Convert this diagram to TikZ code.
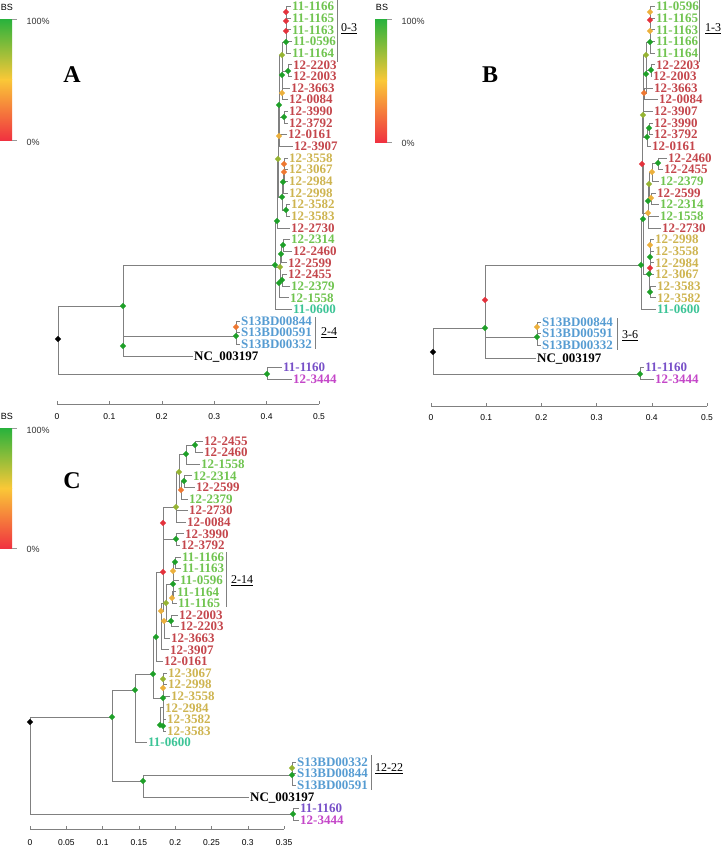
\documentclass[tikz,border=0pt]{standalone}
\usepackage{fontspec}
\setmainfont{Liberation Serif}
\newfontfamily\axisfont{Liberation Sans}
\usetikzlibrary{shapes.geometric}
\definecolor{tgreen}{RGB}{112,196,80}
\definecolor{tred}{RGB}{196,70,76}
\definecolor{tyel}{RGB}{206,180,80}
\definecolor{tteal}{RGB}{60,196,150}
\definecolor{tblue}{RGB}{86,156,210}
\definecolor{tpurp}{RGB}{120,80,200}
\definecolor{tmag}{RGB}{196,70,200}
\definecolor{bsgreen}{RGB}{30,160,40}
\definecolor{bsred}{RGB}{228,50,60}
\definecolor{bsorange}{RGB}{238,120,50}
\definecolor{bsyellow}{RGB}{236,176,60}
\definecolor{bsolive}{RGB}{150,180,50}
\definecolor{bartop}{RGB}{40,178,60}
\definecolor{barmid}{RGB}{250,200,55}
\definecolor{barbot}{RGB}{240,50,64}
\pgfdeclarelayer{back}
\pgfsetlayers{back,main}
\newcommand\yA[1]{6.5+11.65*#1}
\newcommand\yC[1]{441+11.6*#1}
\newcommand\br[2]{\begin{pgfonlayer}{back}\foreach \ch in {#2}{\draw[brline] (#1.center) |- (\ch);}\end{pgfonlayer}}
\newcommand\bsbar[3]{%
  \shade[top color=bartop, bottom color=barmid] (#1,#2) rectangle ({#1+12},{(#2+#3)/2});
  \shade[top color=barmid, bottom color=barbot] (#1,{(#2+#3)/2}) rectangle ({#1+12},#3);
  \draw[black!40] ({#1+12},#2) -- ++(5,0) ({#1+12},#3) -- ++(5,0);}

\begin{document}
\begin{tikzpicture}[x=1pt, y=-1pt,
  brline/.style={draw=black!50, line width=0.7pt},
  dm/.style={diamond, fill=#1, draw=none, inner sep=0pt, minimum size=6.5pt},
  tip/.style={anchor=west, inner xsep=1pt, inner ysep=0pt, text=#1, font=\fontsize{13}{13}\selectfont\bfseries, text height=8.5pt, text depth=0pt},
  axlab/.style={font=\axisfont\fontsize{8.5}{8.5}\selectfont},
  barlab/.style={anchor=west, font=\axisfont\fontsize{9}{9}\selectfont, text=black!80},
  grp/.style={anchor=west, inner sep=1pt, font=\fontsize{12}{12}\selectfont},
  panel/.style={font=\fontsize{24}{24}\selectfont\bfseries}
]
  \useasboundingbox (0,0) rectangle (722,855);

  %% Colour bars
  \bsbar{0}{19}{140}
  \node[font=\axisfont\fontsize{9}{9}\selectfont] (bsA) at (7,7) {BS};
  \node[barlab] (hiA) at (23,21) {100\%};
  \node[barlab] (loA) at (23,142) {0\%};
  \bsbar{375}{19}{142}
  \node[font=\axisfont\fontsize{9}{9}\selectfont] (bsB) at (382,7) {BS};
  \node[barlab] (hiB) at (398,21) {100\%};
  \node[barlab] (loB) at (398,143) {0\%};
  \bsbar{0}{428}{548}
  \node[font=\axisfont\fontsize{9}{9}\selectfont] (bsC) at (7,416) {BS};
  \node[barlab] (hiC) at (23,430) {100\%};
  \node[barlab] (loC) at (23,549) {0\%};

  \node[panel] (labA) at (72,75) {A};
  \node[panel] (labB) at (490,75) {B};
  \node[panel] (labC) at (72,481) {C};

  %% Axes
  \draw[black!50] (57,404) -- (319,404);
  \foreach \k/\v in {0/0,1/0.1,2/0.2,3/0.3,4/0.4,5/0.5}{
    \draw[black!50] ({57+52.4*\k},404) -- ++(0,-3);
    \node[axlab] (axA\k) at ({57+52.4*\k},417) {\v};
  }
  \draw[black!50] (431,406) -- (707,406);
  \foreach \k/\v in {0/0,1/0.1,2/0.2,3/0.3,4/0.4,5/0.5}{
    \draw[black!50] ({431+55.2*\k},406) -- ++(0,-3);
    \node[axlab] (axB\k) at ({431+55.2*\k},418) {\v};
  }
  \draw[black!50] (30,829) -- (284,829);
  \foreach \k/\v in {0/0,1/0.05,2/0.1,3/0.15,4/0.2,5/0.25,6/0.3,7/0.35}{
    \draw[black!50] ({30+36.3*\k},829) -- ++(0,-3);
    \node[axlab] (axC\k) at ({30+36.3*\k},843) {\v};
  }

  %% Tree A: tips
  \node[tip=tgreen] (a0) at (291,{\yA{0}}) {11-1166};
  \node[tip=tgreen] (a1) at (291,{\yA{1}}) {11-1165};
  \node[tip=tgreen] (a2) at (291,{\yA{2}}) {11-1163};
  \node[tip=tgreen] (a3) at (292,{\yA{3}}) {11-0596};
  \node[tip=tgreen] (a4) at (291,{\yA{4}}) {11-1164};
  \node[tip=tred] (a5) at (292,{\yA{5}}) {12-2203};
  \node[tip=tred] (a6) at (292,{\yA{6}}) {12-2003};
  \node[tip=tred] (a7) at (290,{\yA{7}}) {12-3663};
  \node[tip=tred] (a8) at (288,{\yA{8}}) {12-0084};
  \node[tip=tred] (a9) at (288,{\yA{9}}) {12-3990};
  \node[tip=tred] (a10) at (288,{\yA{10}}) {12-3792};
  \node[tip=tred] (a11) at (287,{\yA{11}}) {12-0161};
  \node[tip=tred] (a12) at (293,{\yA{12}}) {12-3907};
  \node[tip=tyel] (a13) at (288,{\yA{13}}) {12-3558};
  \node[tip=tyel] (a14) at (288,{\yA{14}}) {12-3067};
  \node[tip=tyel] (a15) at (288,{\yA{15}}) {12-2984};
  \node[tip=tyel] (a16) at (288,{\yA{16}}) {12-2998};
  \node[tip=tyel] (a17) at (290,{\yA{17}}) {12-3582};
  \node[tip=tyel] (a18) at (290,{\yA{18}}) {12-3583};
  \node[tip=tred] (a19) at (290,{\yA{19}}) {12-2730};
  \node[tip=tgreen] (a20) at (290,{\yA{20}}) {12-2314};
  \node[tip=tred] (a21) at (292,{\yA{21}}) {12-2460};
  \node[tip=tred] (a22) at (287,{\yA{22}}) {12-2599};
  \node[tip=tred] (a23) at (287,{\yA{23}}) {12-2455};
  \node[tip=tgreen] (a24) at (290,{\yA{24}}) {12-2379};
  \node[tip=tgreen] (a25) at (289,{\yA{25}}) {12-1558};
  \node[tip=tteal] (a26) at (292,{\yA{26}}) {11-0600};
  \node[tip=tblue] (aS1) at (240,321) {S13BD00844};
  \node[tip=tblue] (aS2) at (240,332.5) {S13BD00591};
  \node[tip=tblue] (aS3) at (240,344) {S13BD00332};
  \node[tip=black] (aNC) at (193,356) {NC\_003197};
  \node[tip=tpurp] (aO1) at (282,367) {11-1160};
  \node[tip=tmag] (aO2) at (292,379) {12-3444};

  %% Tree A: inner nodes
  \node[dm=black] (Ar) at (58,339) {};
  \node[dm=bsgreen] (An1) at (123,306) {};
  \node[dm=bsgreen] (An2) at (123,346) {};
  \node[dm=bsgreen] (As) at (236,336) {};
  \node[dm=bsorange] (As1) at (236,327) {};
  \node[dm=bsgreen] (Aout) at (267,374) {};
  \node[dm=bsgreen] (Abig) at (275,265) {};
  \node[dm=bsolive] (AL) at (280,267) {};
  \node[dm=bsgreen] (AL1) at (281,254) {};
  \node[dm=bsgreen] (AL1a) at (283,245) {};
  \node[dm=bsgreen] (AL2) at (279,283) {};
  \node[dm=bsgreen] (AL2a) at (282,280) {};
  \node[dm=bsgreen] (AU) at (277,221) {};
  \node[dm=bsolive] (AU2) at (278,159) {};
  \node[dm=bsgreen] (AT) at (279,105) {};
  \node[dm=bsolive] (AGa) at (282,55) {};
  \node[dm=bsgreen] (AGg) at (286,42) {};
  \node[dm=bsred] (Ag2) at (286,31) {};
  \node[dm=bsred] (Ag1) at (286,21) {};
  \node[dm=bsred] (Ag0) at (286,12) {};
  \node[dm=bsgreen] (AGr) at (282,75) {};
  \node[dm=bsgreen] (AGr1) at (288,71) {};
  \node[dm=bsyellow] (AGr2) at (282,93) {};
  \node[dm=bsgreen] (ARb) at (284,117) {};
  \node[dm=bsyellow] (ARc) at (279,136) {};
  \node[dm=bsgreen] (Ay0) at (282,197) {};
  \node[dm=bsgreen] (Ay1) at (283,182) {};
  \node[dm=bsorange] (Ay2) at (284,172) {};
  \node[dm=bsorange] (Ay3) at (284,164) {};
  \node[dm=bsgreen] (Ay5) at (286,210) {};

  %% Tree A: branches
  \br{Ar}{An1.center,Aout.center}
  \br{An1}{Abig.center,An2.center}
  \br{An2}{As.center,aNC.west}
  \br{As}{As1.center,aS3.west}
  \br{As1}{aS1.west,aS2.west}
  \br{Aout}{aO1.west,aO2.west}
  \br{Abig}{AU.center,AL.center,a26.west}
  \br{AL}{AL1.center,AL2.center}
  \br{AL1}{AL1a.center,a22.west}
  \br{AL1a}{a20.west,a21.west}
  \br{AL2}{AL2a.center,a25.west}
  \br{AL2a}{a23.west,a24.west}
  \br{AU}{AU2.center,a19.west}
  \br{AU2}{AT.center,Ay0.center}
  \br{AT}{AGa.center,ARb.center,ARc.center}
  \br{AGa}{AGg.center,AGr.center}
  \br{AGg}{Ag2.center,a4.west}
  \br{Ag2}{Ag1.center,a3.west}
  \br{Ag1}{Ag0.center,a2.west}
  \br{Ag0}{a0.west,a1.west}
  \br{AGr}{AGr1.center,AGr2.center}
  \br{AGr1}{a5.west,a6.west}
  \br{AGr2}{a7.west,a8.west}
  \br{ARb}{a9.west,a10.west}
  \br{ARc}{a11.west,a12.west}
  \br{Ay0}{Ay1.center,Ay5.center}
  \br{Ay1}{Ay2.center,a16.west}
  \br{Ay2}{Ay3.center,a15.west}
  \br{Ay3}{a13.west,a14.west}
  \br{Ay5}{a17.west,a18.west}

  %% Tree A: groups
  \draw[black!50] (337,0) -- (337,62);
  \node[grp] (gA1) at (340,29) {\underline{0-3}};
  \draw[black!50] (315,317) -- (315,349);
  \node[grp] (gA2) at (320,333) {\underline{2-4}};

  %% Tree B: tips
  \node[tip=tgreen] (b0) at (655,{\yA{0}}) {11-0596};
  \node[tip=tgreen] (b1) at (655,{\yA{1}}) {11-1165};
  \node[tip=tgreen] (b2) at (655,{\yA{2}}) {11-1163};
  \node[tip=tgreen] (b3) at (655,{\yA{3}}) {11-1166};
  \node[tip=tgreen] (b4) at (655,{\yA{4}}) {11-1164};
  \node[tip=tred] (b5) at (655,{\yA{5}}) {12-2203};
  \node[tip=tred] (b6) at (652,{\yA{6}}) {12-2003};
  \node[tip=tred] (b7) at (653,{\yA{7}}) {12-3663};
  \node[tip=tred] (b8) at (658,{\yA{8}}) {12-0084};
  \node[tip=tred] (b9) at (653,{\yA{9}}) {12-3907};
  \node[tip=tred] (b10) at (653,{\yA{10}}) {12-3990};
  \node[tip=tred] (b11) at (653,{\yA{11}}) {12-3792};
  \node[tip=tred] (b12) at (651,{\yA{12}}) {12-0161};
  \node[tip=tred] (b13) at (667,{\yA{13}}) {12-2460};
  \node[tip=tred] (b14) at (663,{\yA{14}}) {12-2455};
  \node[tip=tgreen] (b15) at (659,{\yA{15}}) {12-2379};
  \node[tip=tred] (b16) at (656,{\yA{16}}) {12-2599};
  \node[tip=tgreen] (b17) at (659,{\yA{17}}) {12-2314};
  \node[tip=tgreen] (b18) at (659,{\yA{18}}) {12-1558};
  \node[tip=tred] (b19) at (661,{\yA{19}}) {12-2730};
  \node[tip=tyel] (b20) at (654,{\yA{20}}) {12-2998};
  \node[tip=tyel] (b21) at (654,{\yA{21}}) {12-3558};
  \node[tip=tyel] (b22) at (654,{\yA{22}}) {12-2984};
  \node[tip=tyel] (b23) at (654,{\yA{23}}) {12-3067};
  \node[tip=tyel] (b24) at (656,{\yA{24}}) {12-3583};
  \node[tip=tyel] (b25) at (656,{\yA{25}}) {12-3582};
  \node[tip=tteal] (b26) at (656,{\yA{26}}) {11-0600};
  \node[tip=tblue] (bS1) at (541,322) {S13BD00844};
  \node[tip=tblue] (bS2) at (541,333.5) {S13BD00591};
  \node[tip=tblue] (bS3) at (541,345) {S13BD00332};
  \node[tip=black] (bNC) at (536,358) {NC\_003197};
  \node[tip=tpurp] (bO1) at (644,367) {11-1160};
  \node[tip=tmag] (bO2) at (654,379) {12-3444};

  %% Tree B: inner nodes
  \node[dm=black] (Br) at (433,352) {};
  \node[dm=bsgreen] (B1) at (485,328) {};
  \node[dm=bsred] (B2) at (485,300) {};
  \node[dm=bsgreen] (BS) at (537,337) {};
  \node[dm=bsyellow] (BS1) at (537,327) {};
  \node[dm=bsgreen] (Bout) at (640,374) {};
  \node[dm=bsgreen] (BigB) at (641,265) {};
  \node[dm=bsgreen] (Bup) at (643,219) {};
  \node[dm=bsred] (Bred) at (642,164) {};
  \node[dm=bsolive] (Bt) at (643,115) {};
  \node[dm=bsyellow] (bg0) at (650,12) {};
  \node[dm=bsred] (bg1) at (650,20) {};
  \node[dm=bsyellow] (bg2) at (650,31) {};
  \node[dm=bsgreen] (bg3) at (650,42) {};
  \node[dm=bsolive] (bg4) at (646,55) {};
  \node[dm=bsgreen] (bg5) at (646,74) {};
  \node[dm=bsgreen] (bg6) at (651,70) {};
  \node[dm=bsorange] (bg7) at (644,93) {};
  \node[dm=bsgreen] (bg8) at (647,137) {};
  \node[dm=bsgreen] (bg9) at (649,128) {};
  \node[dm=bsgreen] (bm0) at (658,163) {};
  \node[dm=bsyellow] (bm1) at (652,172) {};
  \node[dm=bsolive] (bm2) at (649,184) {};
  \node[dm=bsyellow] (bm3) at (651,198) {};
  \node[dm=bsgreen] (bm4) at (648,201) {};
  \node[dm=bsyellow] (bm5) at (648,213) {};
  \node[dm=bsgreen] (Byel) at (649,274) {};
  \node[dm=bsyellow] (by00) at (650,245) {};
  \node[dm=bsgreen] (by0) at (650,257) {};
  \node[dm=bsred] (by1) at (650,268) {};
  \node[dm=bsgreen] (by3) at (650,292) {};

  %% Tree B: branches
  \br{Br}{B1.center,Bout.center}
  \br{B1}{B2.center,bNC.west}
  \br{B2}{BigB.center,BS.center}
  \br{BS}{BS1.center,bS3.west}
  \br{BS1}{bS1.west,bS2.west}
  \br{Bout}{bO1.west,bO2.west}
  \br{BigB}{Bup.center,b26.west}
  \br{Bup}{Bred.center,Byel.center}
  \br{Bred}{Bt.center,bm5.center}
  \br{Bt}{bg4.center,b9.west,bg8.center}
  \br{bg4}{bg3.center,bg5.center}
  \br{bg3}{bg2.center,b4.west}
  \br{bg2}{bg1.center,b3.west}
  \br{bg1}{bg0.center,b2.west}
  \br{bg0}{b0.west,b1.west}
  \br{bg5}{bg6.center,bg7.center}
  \br{bg6}{b5.west,b6.west}
  \br{bg7}{b7.west,b8.west}
  \br{bg8}{bg9.center,b12.west}
  \br{bg9}{b10.west,b11.west}
  \br{bm5}{bm4.center,b19.west}
  \br{bm4}{bm2.center,b18.west}
  \br{bm2}{bm1.center,bm3.center}
  \br{bm1}{bm0.center,b15.west}
  \br{bm0}{b13.west,b14.west}
  \br{bm3}{b16.west,b17.west}
  \br{Byel}{by1.center,by3.center}
  \br{by1}{by0.center,b23.west}
  \br{by0}{by00.center,b22.west}
  \br{by00}{b20.west,b21.west}
  \br{by3}{b24.west,b25.west}

  %% Tree B: groups
  \draw[black!50] (699,0) -- (699,62);
  \node[grp] (gB1) at (704,29) {\underline{1-3}};
  \draw[black!50] (617,318) -- (617,350);
  \node[grp] (gB2) at (621,336) {\underline{3-6}};

  %% Tree C: tips
  \node[tip=tred] (c0) at (203,{\yC{0}}) {12-2455};
  \node[tip=tred] (c1) at (203,{\yC{1}}) {12-2460};
  \node[tip=tgreen] (c2) at (200,{\yC{2}}) {12-1558};
  \node[tip=tgreen] (c3) at (192,{\yC{3}}) {12-2314};
  \node[tip=tred] (c4) at (195,{\yC{4}}) {12-2599};
  \node[tip=tgreen] (c5) at (188,{\yC{5}}) {12-2379};
  \node[tip=tred] (c6) at (188,{\yC{6}}) {12-2730};
  \node[tip=tred] (c7) at (186,{\yC{7}}) {12-0084};
  \node[tip=tred] (c8) at (184,{\yC{8}}) {12-3990};
  \node[tip=tred] (c9) at (180,{\yC{9}}) {12-3792};
  \node[tip=tgreen] (c10) at (181,{\yC{10}}) {11-1166};
  \node[tip=tgreen] (c11) at (181,{\yC{11}}) {11-1163};
  \node[tip=tgreen] (c12) at (179,{\yC{12}}) {11-0596};
  \node[tip=tgreen] (c13) at (176,{\yC{13}}) {11-1164};
  \node[tip=tgreen] (c14) at (177,{\yC{14}}) {11-1165};
  \node[tip=tred] (c15) at (178,{\yC{15}}) {12-2003};
  \node[tip=tred] (c16) at (179,{\yC{16}}) {12-2203};
  \node[tip=tred] (c17) at (170,{\yC{17}}) {12-3663};
  \node[tip=tred] (c18) at (169,{\yC{18}}) {12-3907};
  \node[tip=tred] (c19) at (163,{\yC{19}}) {12-0161};
  \node[tip=tyel] (c20) at (167,{\yC{20}}) {12-3067};
  \node[tip=tyel] (c21) at (167,{\yC{21}}) {12-2998};
  \node[tip=tyel] (c22) at (170,{\yC{22}}) {12-3558};
  \node[tip=tyel] (c23) at (164,{\yC{23}}) {12-2984};
  \node[tip=tyel] (c24) at (166,{\yC{24}}) {12-3582};
  \node[tip=tyel] (c25) at (166,{\yC{25}}) {12-3583};
  \node[tip=tteal] (c26) at (147,{\yC{26}}) {11-0600};
  \node[tip=tblue] (cS1) at (296,762) {S13BD00332};
  \node[tip=tblue] (cS2) at (296,773.6) {S13BD00844};
  \node[tip=tblue] (cS3) at (296,785.2) {S13BD00591};
  \node[tip=black] (cNC) at (249,797) {NC\_003197};
  \node[tip=tpurp] (cO1) at (299,808.5) {11-1160};
  \node[tip=tmag] (cO2) at (299,820) {12-3444};

  %% Tree C: inner nodes
  \node[dm=black] (Cr) at (30,722) {};
  \node[dm=bsgreen] (CA) at (112,717) {};
  \node[dm=bsgreen] (CB) at (135,690) {};
  \node[dm=bsgreen] (CD) at (143,781) {};
  \node[dm=bsgreen] (CS) at (292,775) {};
  \node[dm=bsolive] (CS1) at (292,768) {};
  \node[dm=bsgreen] (Cout) at (293,814) {};
  \node[dm=bsgreen] (Cc0) at (195,445) {};
  \node[dm=bsgreen] (Cc1) at (186,454) {};
  \node[dm=bsgreen] (Cc2) at (184,481) {};
  \node[dm=bsorange] (Cc3) at (181,490) {};
  \node[dm=bsolive] (Cc4) at (179,472) {};
  \node[dm=bsolive] (Cc5) at (176,507) {};
  \node[dm=bsgreen] (Cc7) at (176,539) {};
  \node[dm=bsred] (Cc8) at (163,523) {};
  \node[dm=bsgreen] (Cg0) at (175,562) {};
  \node[dm=bsyellow] (Cg1) at (173,571) {};
  \node[dm=bsgreen] (Cg2) at (173,584) {};
  \node[dm=bsyellow] (Cg3) at (172,598) {};
  \node[dm=bsolive] (Cg4) at (166,603) {};
  \node[dm=bsgreen] (Cr1) at (171,621) {};
  \node[dm=bsyellow] (Cr2) at (164,621) {};
  \node[dm=bsyellow] (Cm2) at (161,611) {};
  \node[dm=bsred] (Cm) at (163,572) {};
  \node[dm=bsgreen] (Cn) at (156,637) {};
  \node[dm=bsgreen] (Cy) at (153,674) {};
  \node[dm=bsolive] (Cy1) at (163,679) {};
  \node[dm=bsyellow] (Cy2) at (163,688) {};
  \node[dm=bsgreen] (Cy3) at (163,698) {};
  \node[dm=bsgreen] (Cy4) at (160,725) {};
  \node[dm=bsgreen] (Cy5) at (163,726) {};

  %% Tree C: branches
  \br{Cr}{CA.center,Cout.center}
  \br{CA}{CB.center,CD.center}
  \br{CB}{Cy.center,c26.west}
  \br{CD}{CS.center,cNC.west}
  \br{CS}{CS1.center,cS3.west}
  \br{CS1}{cS1.west,cS2.west}
  \br{Cout}{cO1.west,cO2.west}
  \br{Cc0}{c0.west,c1.west}
  \br{Cc1}{Cc0.center,c2.west}
  \br{Cc2}{c3.west,c4.west}
  \br{Cc3}{Cc2.center,c5.west}
  \br{Cc4}{Cc1.center,Cc3.center}
  \br{Cc5}{Cc4.center,c6.west,c7.west}
  \br{Cc7}{c8.west,c9.west}
  \br{Cc8}{Cc5.center,Cc7.center}
  \br{Cg0}{c10.west,c11.west}
  \br{Cg1}{Cg0.center,c12.west}
  \br{Cg3}{c13.west,c14.west}
  \br{Cg2}{Cg1.center,Cg3.center}
  \br{Cr1}{c15.west,c16.west}
  \br{Cr2}{Cr1.center,c17.west}
  \br{Cg4}{Cg2.center,Cr2.center}
  \br{Cm2}{Cg4.center,c18.west}
  \br{Cm}{Cc8.center,Cm2.center}
  \br{Cn}{Cm.center,c19.west}
  \br{Cy}{Cn.center,Cy3.center}
  \br{Cy3}{Cy2.center,Cy4.center}
  \br{Cy2}{Cy1.center,c22.west}
  \br{Cy1}{c20.west,c21.west}
  \br{Cy4}{c23.west,Cy5.center}
  \br{Cy5}{c24.west,c25.west}

  %% Tree C: groups
  \draw[black!50] (226,552) -- (226,607);
  \node[grp] (gC1) at (230,581) {\underline{2-14}};
  \draw[black!50] (371,755) -- (371,790);
  \node[grp] (gC2) at (374,769) {\underline{12-22}};
\end{tikzpicture}
\end{document}
